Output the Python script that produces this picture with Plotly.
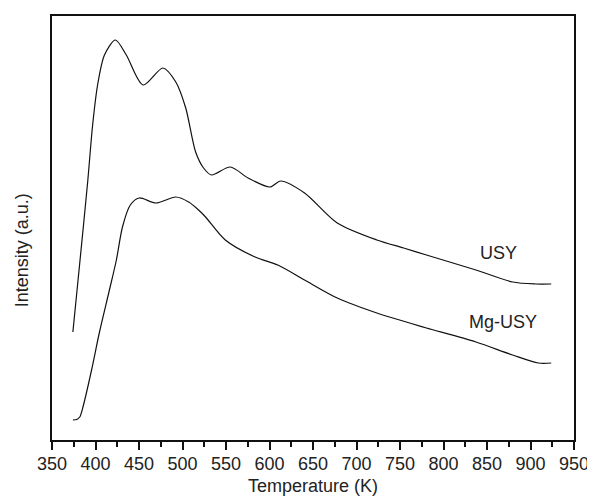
import plotly.graph_objects as go

# Temperature (K) and intensity (a.u.)
usy_T = [374, 381.9, 391.0, 396.7, 402.4, 410.3, 422.9, 435.4, 454.7, 477.5, 492.3,
         503.7, 515.1, 524.2, 533.3, 554.9, 575.4, 600.5, 613.0, 640.3, 677.9,
         723.4, 754.2, 780.4, 837.3, 879.4, 905.6, 923.8]
usy_I = [108, 177, 258, 315, 355, 385, 400, 385, 355, 372, 358,
         332, 288, 272, 265, 273, 262, 253, 259, 247, 217,
         200, 192, 185, 170, 158, 156, 156]

mg_T = [374, 378.5, 381.9, 385.3, 395.5, 404.6, 416.0, 424.0, 431.0, 440.0, 450.2, 469.5,
        492.3, 507.1, 518.5, 526.5, 549.2, 583.4, 609.6, 640.3, 677.9, 723.4,
        761.0, 780.4, 837.3, 879.4, 909.0, 923.8]
mg_I = [20, 20.5, 23, 32, 70, 108, 150, 180, 213, 235, 242, 237,
        243, 238, 230, 223, 200, 183, 175, 160, 142, 127,
        117, 112, 98, 85, 77, 77]

x_ticks = list(range(350, 951, 50))
labels = ["USY", "Mg-USY"]
label_T = [863, 868]
label_I = [187, 118]
x_title = "Temperature (K)"
y_title = "Intensity (a.u.)"

FONT = "Liberation Sans, Arial, sans-serif"
TXT = "#222"

fig = go.Figure()
fig.add_trace(go.Scatter(x=usy_T, y=usy_I, mode="lines", name="USY",
                         line=dict(color="#111", width=1.2, shape="spline", smoothing=0.8)))
fig.add_trace(go.Scatter(x=mg_T, y=mg_I, mode="lines", name="Mg-USY",
                         line=dict(color="#111", width=1.2, shape="spline", smoothing=0.8)))

for t, xx, yy in zip(labels, label_T, label_I):
    fig.add_annotation(x=xx, y=yy, text=t, showarrow=False,
                       font=dict(family=FONT, size=18, color=TXT))

fig.add_annotation(xref="paper", yref="paper", x=0.5, y=-0.108, text=x_title,
                   showarrow=False, xanchor="center", yanchor="middle",
                   font=dict(family=FONT, size=18, color=TXT))
fig.add_annotation(xref="paper", yref="paper", x=-0.057, y=0.448, text=y_title,
                   showarrow=False, xanchor="center", yanchor="middle", textangle=-90,
                   font=dict(family=FONT, size=18, color=TXT))

# page body has an 8px default margin; right margin leaves room for the "950" label
fig.update_layout(
    width=595, height=493,
    margin=dict(l=44, r=29, t=8, b=61),
    paper_bgcolor="white", plot_bgcolor="white",
    showlegend=False,
    font=dict(family=FONT, size=18, color=TXT),
)
fig.update_xaxes(
    range=[350, 950], tickvals=x_ticks, ticktext=[str(v) for v in x_ticks],
    ticks="outside", ticklen=8, tickwidth=1.5, tickcolor="#111",
    minor=dict(dtick=25, tick0=350, ticks="outside", ticklen=5, tickwidth=1.5, tickcolor="#111"),
    showline=True, linecolor="#111", linewidth=2, mirror=True,
    showgrid=False, zeroline=False, automargin=False,
    tickfont=dict(family=FONT, size=18, color=TXT),
    ticklabelstandoff=-2,
)
fig.update_yaxes(
    range=[0, 424], showticklabels=False, ticks="",
    showline=True, linecolor="#111", linewidth=2, mirror=True,
    showgrid=False, zeroline=False, automargin=False,
)

fig.write_html("out.html")
